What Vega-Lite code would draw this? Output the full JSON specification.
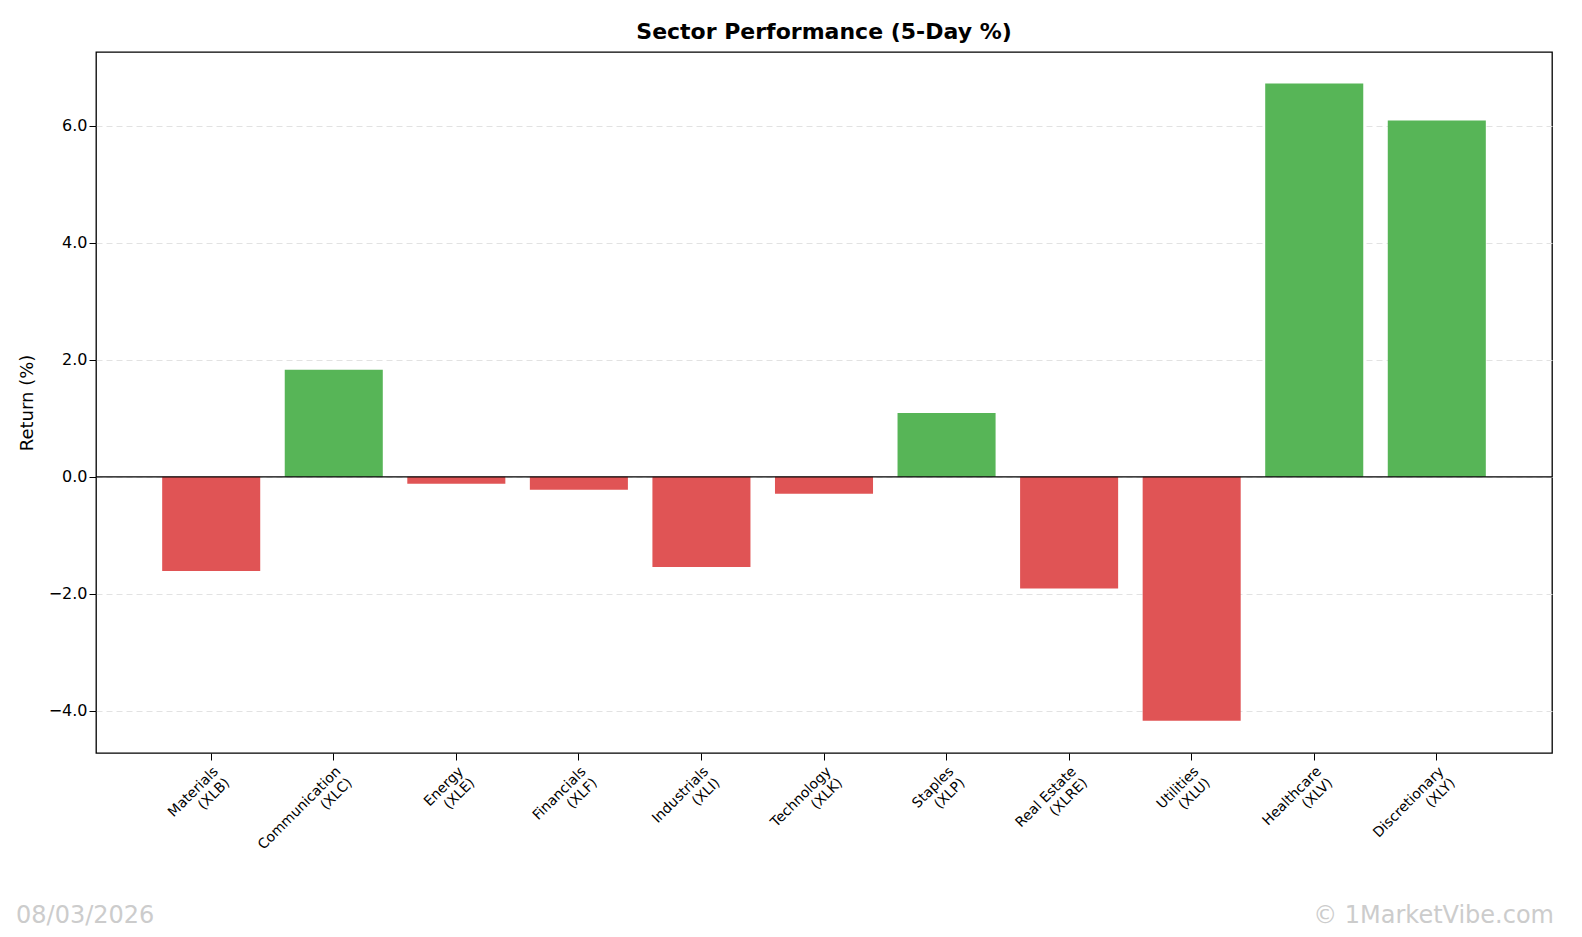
{
  "$schema": "https://vega.github.io/schema/vega-lite/v6.json",
  "width": 1456,
  "height": 701,
  "autosize": {"type": "none"},
  "padding": {"left": 96, "top": 52, "right": 30, "bottom": 184},
  "config": {
    "font": "DejaVu Sans",
    "view": {"stroke": "black", "strokeWidth": 1.3},
    "title": {"fontSize": 22, "fontWeight": "bold", "offset": 8, "color": "black"}
  },
  "title": "Sector Performance (5-Day %)",
  "data": {
    "values": [
      {"sector": "Materials\n(XLB)", "ret": -1.61},
      {"sector": "Communication\n(XLC)", "ret": 1.83},
      {"sector": "Energy\n(XLE)", "ret": -0.12},
      {"sector": "Financials\n(XLF)", "ret": -0.22},
      {"sector": "Industrials\n(XLI)", "ret": -1.54},
      {"sector": "Technology\n(XLK)", "ret": -0.29},
      {"sector": "Staples\n(XLP)", "ret": 1.09},
      {"sector": "Real Estate\n(XLRE)", "ret": -1.91},
      {"sector": "Utilities\n(XLU)", "ret": -4.17},
      {"sector": "Healthcare\n(XLV)", "ret": 6.72},
      {"sector": "Discretionary\n(XLY)", "ret": 6.09}
    ]
  },
  "layer": [
    {
      "mark": {"type": "bar"},
      "encoding": {
        "x": {
          "field": "sector", "type": "nominal", "sort": null, "title": null,
          "scale": {"paddingInner": 0.2, "paddingOuter": 0.54},
          "axis": {
            "labelAngle": -45, "labelAlign": "right", "labelBaseline": "top",
            "labelExpr": "split(datum.label, '\\n')", "labelFontSize": 14,
            "labelColor": "black", "tickColor": "black", "tickSize": 7,
            "domain": false, "labelPadding": 4, "labelLineHeight": 16
          }
        },
        "y": {
          "field": "ret", "type": "quantitative", "title": "Return (%)",
          "scale": {"domain": [-4.72, 7.26], "nice": false, "zero": false},
          "axis": {
            "values": [-4, -2, 0, 2, 4, 6], "labelExpr": "replace(datum.label, '-', '−')",
            "labelFontSize": 16, "labelColor": "black", "tickColor": "black", "tickSize": 7,
            "titleFontSize": 18, "titleFontWeight": "normal", "titleColor": "black", "titlePadding": 12,
            "domain": false, "grid": true, "gridColor": "#e2e2e2", "gridDash": [6, 4]
          }
        },
        "color": {
          "condition": {"test": "datum.ret >= 0", "value": "#57b557"},
          "value": "#e05455"
        }
      }
    },
    {
      "data": {"values": [{"z": 0}]},
      "mark": {"type": "rule", "color": "black", "strokeWidth": 1.3},
      "encoding": {"y": {"field": "z", "type": "quantitative"}}
    },
    {
      "data": {"values": [{"t": "08/03/2026"}]},
      "mark": {"type": "text", "align": "left", "baseline": "bottom", "fontSize": 24, "color": "#cccccc", "x": -80, "y": 876},
      "encoding": {"text": {"field": "t"}}
    },
    {
      "data": {"values": [{"t": "© 1MarketVibe.com"}]},
      "mark": {"type": "text", "align": "right", "baseline": "bottom", "fontSize": 24, "color": "#cccccc", "x": 1458, "y": 876},
      "encoding": {"text": {"field": "t"}}
    }
  ]
}
